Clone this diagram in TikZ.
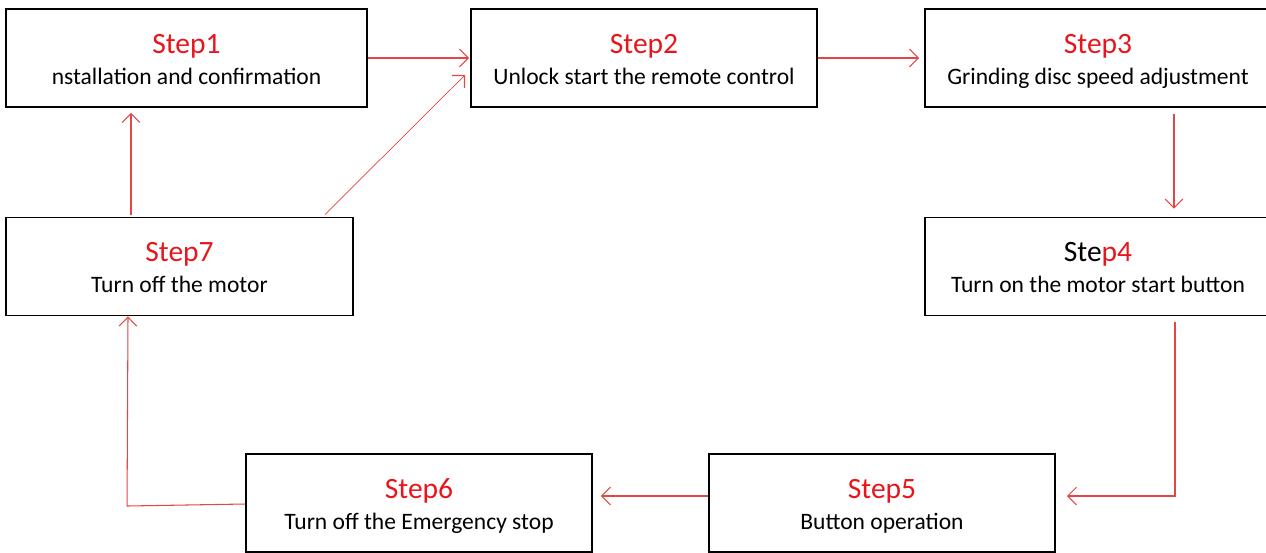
\documentclass[tikz,border=0pt]{standalone}
\usepackage{fontspec}
\setmainfont{Carlito}
\usetikzlibrary{calc,arrows.meta}
\definecolor{stepred}{RGB}{232,22,28}
\definecolor{arrred}{RGB}{228,70,70}
\begin{document}
\begin{tikzpicture}[x=0.02cm,y=-0.02cm,
  stepbox/.style={draw=black,line width=1.1pt,minimum width=346*0.02cm,minimum height=98*0.02cm,inner sep=0pt,align=center,font=\fontsize{13.4pt}{17.5pt}\selectfont},
  conn/.style={draw=arrred,line width=0.6pt,-{Straight Barb[length=5pt,width=10pt,line width=0.6pt]}}]
\useasboundingbox (0,0) rectangle (1266,552);
\newcommand{\ttl}[1]{\rule{0pt}{17.6pt}{\fontsize{16.8pt}{17.5pt}\selectfont\color{stepred}#1}}
\node[stepbox,minimum width=361*0.02cm] (s1) at (186.5,58) {\ttl{Step1}\\ nstallation and confirmation\strut};
\node[stepbox] (s2) at (644,58) {\ttl{Step2}\\ Unlock start the remote control\strut};
\node[stepbox] (s3) at (1098,58) {\ttl{Step3}\\ Grinding disc speed adjustment\strut};
\node[stepbox] (s4) at (1098,266.5) {\rule{0pt}{17.6pt}{\fontsize{16.8pt}{17.5pt}\selectfont Ste\textcolor{stepred}{p4}}\\ Turn on the motor start button\strut};
\node[stepbox] (s5) at (882,503) {\ttl{Step5}\\ Button operation\strut};
\node[stepbox] (s6) at (419,503) {\ttl{Step6}\\ Turn off the Emergency stop\strut};
\node[stepbox,minimum width=347*0.02cm] (s7) at (179.5,266.5) {\ttl{Step7}\\ Turn off the motor\strut};
% connectors
\draw[conn] (s1.east) -- ($(s2.west)+(-1,0)$);
\draw[conn] (s2.east) -- ($(s3.west)+(-5,0)$);
\draw[conn] ($(s3.south)+(76,6)$) -- ($(s4.north)+(76,-8)$);
\draw[conn] ($(s4.south)+(77,6)$) |- ($(s5.east)+(11,-7)$);
\draw[conn] ($(s5.west)+(0,-7)$) -- ($(s6.east)+(8,-7)$);
\draw[conn] ($(s6.west)+(0,1)$) -- ($(s6.west)+(-118,3)$) -- ($(s7.south)+(-51.5,0)$);
\draw[conn] ($(s7.north)+(-48.5,-2)$) -- ($(s1.south)+(-55.5,5)$);
\draw[conn,line width=0.4pt] ($(s7.north)+(145.5,-2)$) -- ($(s2.west)+(-5,17)$);
\end{tikzpicture}
\end{document}
